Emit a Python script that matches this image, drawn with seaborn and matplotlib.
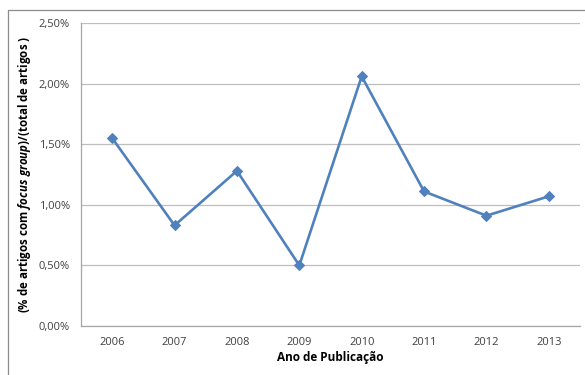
import matplotlib
matplotlib.use("Agg")
import matplotlib.pyplot as plt
import seaborn as sns
import pandas as pd
from matplotlib.ticker import FuncFormatter, FixedLocator
from matplotlib.lines import Line2D

years = ["2006", "2007", "2008", "2009", "2010", "2011", "2012", "2013"]
values = [1.55, 0.83, 1.28, 0.50, 2.06, 1.11, 0.91, 1.07]
y_ticks = [0.0, 0.5, 1.0, 1.5, 2.0, 2.5]

sns.set_theme(style="white")
plt.rcParams['font.family'] = ['Open Sans', 'DejaVu Sans']
plt.rcParams['mathtext.fontset'] = 'custom'
plt.rcParams['mathtext.it'] = 'Open Sans:italic:bold'
plt.rcParams['mathtext.rm'] = 'Open Sans:bold'

W, H = 585, 375
fig = plt.figure(figsize=(W / 100, H / 100), dpi=100)
ax = fig.add_axes([81 / W, 1 - 326 / H, (580 - 81) / W, (326 - 23) / H])

df = pd.DataFrame({"year": years, "value": values})
sns.lineplot(data=df, x="year", y="value", ax=ax, color="#4F81BD", linewidth=1.9,
             marker="D", markersize=5.5, markeredgecolor="#4F81BD", sort=False)

ax.set_xlim(-0.5, len(years) - 0.5)
ax.set_ylim(0, 2.5)
ax.yaxis.set_major_locator(FixedLocator(y_ticks))
ax.yaxis.set_major_formatter(FuncFormatter(lambda v, p: f"{v:.2f}%".replace(".", ",")))
ax.grid(axis="y", color="#BEBEBE", linewidth=0.9)
ax.set_axisbelow(True)

ax.set_xticks(range(len(years)))
ax.set_xticklabels(years)
ax.set_xticks([i - 0.5 for i in range(len(years) + 1)], minor=True)
ax.tick_params(axis="x", which="major", length=0, labelsize=8, colors="#404040", pad=8)
ax.tick_params(axis="x", which="minor", length=4, color="#A6A6A6", width=0.8, direction="out")
ax.tick_params(axis="y", which="major", length=4, color="#A6A6A6", width=0.8, labelsize=8,
               colors="#404040", direction="out", pad=4)

for s in ["top", "right"]:
    ax.spines[s].set_visible(False)
for s in ["left", "bottom"]:
    ax.spines[s].set_color("#A6A6A6")
    ax.spines[s].set_linewidth(0.9)

ax.set_xlabel("Ano de Publicação", fontsize=8.5, fontweight="bold", color="black", labelpad=2)
ax.set_ylabel(r"(% de artigos com $\mathit{focus\ group}$)/(total de artigos )",
              fontsize=8.3, fontweight="bold", color="black", labelpad=4)

# outer chart border
fig.add_artist(Line2D([8 / W, 8 / W], [0, 1 - 10 / H], transform=fig.transFigure,
                      color="#8C8C8C", linewidth=0.9))
fig.add_artist(Line2D([8 / W, 1], [1 - 10 / H, 1 - 10 / H], transform=fig.transFigure,
                      color="#8C8C8C", linewidth=0.9))

fig.savefig("out.png", dpi=100)
